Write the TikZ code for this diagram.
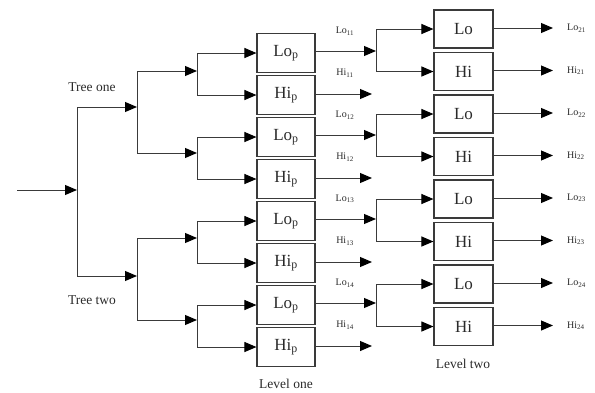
\documentclass[tikz,border=0pt]{standalone}
\usepackage{fontspec}
\setmainfont{Liberation Serif}
\usetikzlibrary{arrows.meta}
\definecolor{ln}{HTML}{3A3A3A}
\definecolor{tx}{HTML}{2A2A2A}
\tikzset{
  wire/.style={draw=ln, line width=1pt},
  arr/.style={wire, -{Triangle[length=12pt,width=10pt,color=black]}},
  boxA/.style={draw=ln, line width=1.1pt, minimum width=58pt, minimum height=39pt, inner sep=0pt, font=\fontsize{17}{17}\selectfont, text=tx},
  boxB/.style={draw=ln, line width=1.1pt, minimum width=59pt, minimum height=38pt, inner sep=0pt, font=\fontsize{17}{17}\selectfont, text=tx},
  lab/.style={font=\fontsize{10}{10}\selectfont, text=tx, inner sep=0pt},
  captext/.style={font=\fontsize{13.5}{13.5}\selectfont, text=tx, inner sep=0pt},
}
\begin{document}
\begin{tikzpicture}[x=1pt,y=-1pt]
\useasboundingbox (0,0) rectangle (595,392);
% level one boxes
\foreach \k/\t in {0/Lo,1/Hi,2/Lo,3/Hi,4/Lo,5/Hi,6/Lo,7/Hi}{
  \node[boxA] (a\k) at (286,{53+42*\k}) {\t\textsubscript{p}};
}
% level two boxes
\foreach \k/\t in {0/Lo,1/Hi,2/Lo,3/Hi,4/Lo,5/Hi,6/Lo,7/Hi}{
  \node[boxB] (b\k) at (463.5,{29+42.5*\k}) {\t};
}
% input and first split
\coordinate (in) at (17,190);
\coordinate (j0) at (77,190);
\coordinate (j0t) at (77,107);
\coordinate (j0b) at (77,276);
\draw[arr] (in) -- (j0);
\draw[wire] (j0t) -- (j0b);
% second split
\coordinate (s1) at (137,107);
\coordinate (s2) at (137,276);
\draw[arr] (j0t) -- (s1);
\draw[arr] (j0b) -- (s2);
\coordinate (s1t) at (137,71);  \coordinate (s1b) at (137,153);
\coordinate (s2t) at (137,238); \coordinate (s2b) at (137,320);
\draw[wire] (s1t) -- (s1b);
\draw[wire] (s2t) -- (s2b);
% third split
\foreach \n/\y in {1/71,2/153,3/238,4/320}{
  \coordinate (t\n) at (197,\y);
}
\draw[arr] (s1t) -- (t1);
\draw[arr] (s1b) -- (t2);
\draw[arr] (s2t) -- (t3);
\draw[arr] (s2b) -- (t4);
\foreach \n/\u/\d in {1/0/1,2/2/3,3/4/5,4/6/7}{
  \draw[wire] (t\n |- a\u) -- (t\n |- a\d);
  \draw[arr] (t\n |- a\u) -- (a\u.west);
  \draw[arr] (t\n |- a\d) -- (a\d.west);
}
% level one outputs
\foreach \n/\lo/\hi/\bu/\bd in {1/0/1/0/1,2/2/3/2/3,3/4/5/4/5,4/6/7/6/7}{
  \coordinate (q\n) at ([yshift=2pt]a\lo.east -| 376,0);
  \draw[arr] ([yshift=2pt]a\lo.east) -- (q\n);
  \draw[wire] (q\n |- b\bu) -- (q\n |- b\bd);
  \draw[arr] (q\n |- b\bu) -- (b\bu.west);
  \draw[arr] (q\n |- b\bd) -- (b\bd.west);
  \coordinate (h\n) at ([yshift=1pt]a\hi.east -| 372,0);
  \draw[arr] ([yshift=1pt]a\hi.east) -- (h\n);
  \node[lab] (ll\n) at ([yshift=22pt]a\lo.center -| 345,0) {Lo\textsubscript{1\n}};
  \node[lab] (lh\n) at ([yshift=22pt]a\hi.center -| 345,0) {Hi\textsubscript{1\n}};
}
% level two outputs
\foreach \k/\t/\n in {0/Lo/1,1/Hi/1,2/Lo/2,3/Hi/2,4/Lo/3,5/Hi/3,6/Lo/4,7/Hi/4}{
  \coordinate (o\k) at ([yshift=1pt]b\k.east -| 553,0);
  \draw[arr] ([yshift=1pt]b\k.east) -- (o\k);
  \node[lab, anchor=west] (ol\k) at ([xshift=14pt]o\k) {\t\textsubscript{2\n}};
}
% captions
\node[captext] (tree1) at (92,87) {Tree one};
\node[captext] (tree2) at (92,300) {Tree two};
\node[captext] (lev1) at (286,384) {Level one};
\node[captext] (lev2) at (463,364) {Level two};
\end{tikzpicture}
\end{document}
